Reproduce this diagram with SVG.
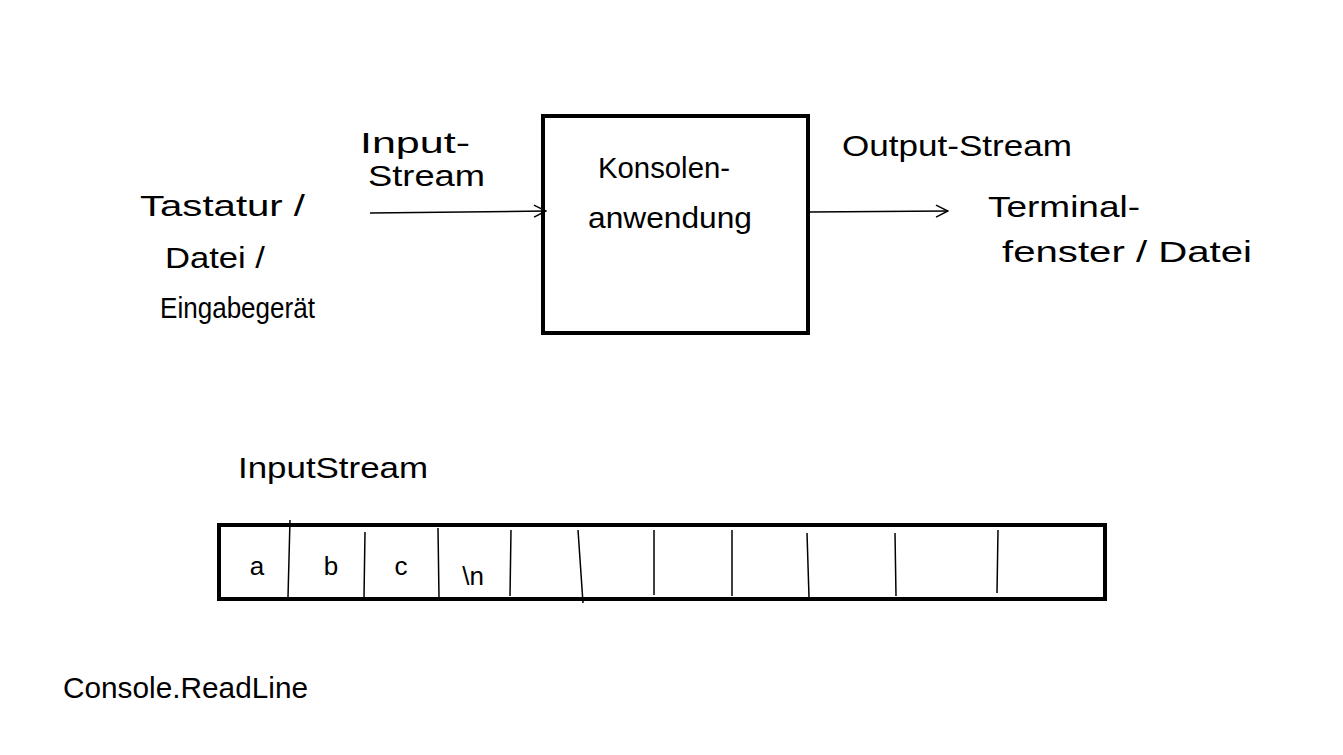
<svg xmlns="http://www.w3.org/2000/svg" width="1343" height="755" viewBox="0 0 1343 755">
<style>
.t{font-family:"Liberation Sans",Arial,sans-serif;font-size:30px;fill:#000}
.c{font-family:"Liberation Sans",Arial,sans-serif;font-size:26px;fill:#000;text-anchor:middle}
.box{fill:#fff;stroke:#000;stroke-width:4}
.div{stroke:#000;stroke-width:1.5;fill:none}
.con{stroke:#000;stroke-width:1.5;fill:none}
</style>
<defs>
<marker id="ah" markerWidth="14" markerHeight="14" refX="13" refY="7" orient="auto" markerUnits="userSpaceOnUse">
<path d="M1,1 L13,7 L1,13" fill="none" stroke="#000" stroke-width="1.5"/>
</marker>
</defs>
<rect width="1343" height="755" fill="#fff"/>
<g id="source">
<text class="t" x="140" y="216" textLength="165" lengthAdjust="spacingAndGlyphs">Tastatur /</text>
<text class="t" x="165" y="268" textLength="100" lengthAdjust="spacingAndGlyphs">Datei /</text>
<text class="t" x="160" y="318" textLength="155" lengthAdjust="spacingAndGlyphs">Eingabegerät</text>
</g>
<g id="app">
<rect class="box" x="543" y="116" width="265" height="217"/>
<text class="t" x="598" y="178" textLength="132" lengthAdjust="spacingAndGlyphs">Konsolen-</text>
<text class="t" x="588" y="228" textLength="164" lengthAdjust="spacingAndGlyphs">anwendung</text>
</g>
<g id="target">
<text class="t" x="988" y="217" textLength="152" lengthAdjust="spacingAndGlyphs">Terminal-</text>
<text class="t" x="1002" y="262" textLength="250" lengthAdjust="spacingAndGlyphs">fenster / Datei</text>
</g>
<g id="connectors">
<path class="con" d="M370,213 L546,211" marker-end="url(#ah)"/>
<text class="t" x="360" y="153" textLength="110" lengthAdjust="spacingAndGlyphs">Input-</text>
<text class="t" x="368" y="186" textLength="117" lengthAdjust="spacingAndGlyphs">Stream</text>
<path class="con" d="M810,212 L948,211" marker-end="url(#ah)"/>
<text class="t" x="842" y="156" textLength="230" lengthAdjust="spacingAndGlyphs">Output-Stream</text>
</g>
<g id="stream">
<text class="t" x="238" y="478" textLength="190" lengthAdjust="spacingAndGlyphs">InputStream</text>
<rect class="box" x="219" y="525" width="886" height="74"/>
<path class="div" d="M290,520 L288,597 M365,532 L364,597 M438,528 L439,598 M511,530 L510,596 M578,530 L583,603 M654,530 L654,595 M732,530 L732,596 M807,533 L809,597 M895,533 L896,596 M998,530 L997,593"/>
<text class="c" x="257" y="575">a</text>
<text class="c" x="331" y="575">b</text>
<text class="c" x="401" y="575">c</text>
<text class="c" x="473" y="585">\n</text>
</g>
<g id="call">
<text class="t" x="63" y="698" textLength="245" lengthAdjust="spacingAndGlyphs">Console.ReadLine</text>
</g>
</svg>
